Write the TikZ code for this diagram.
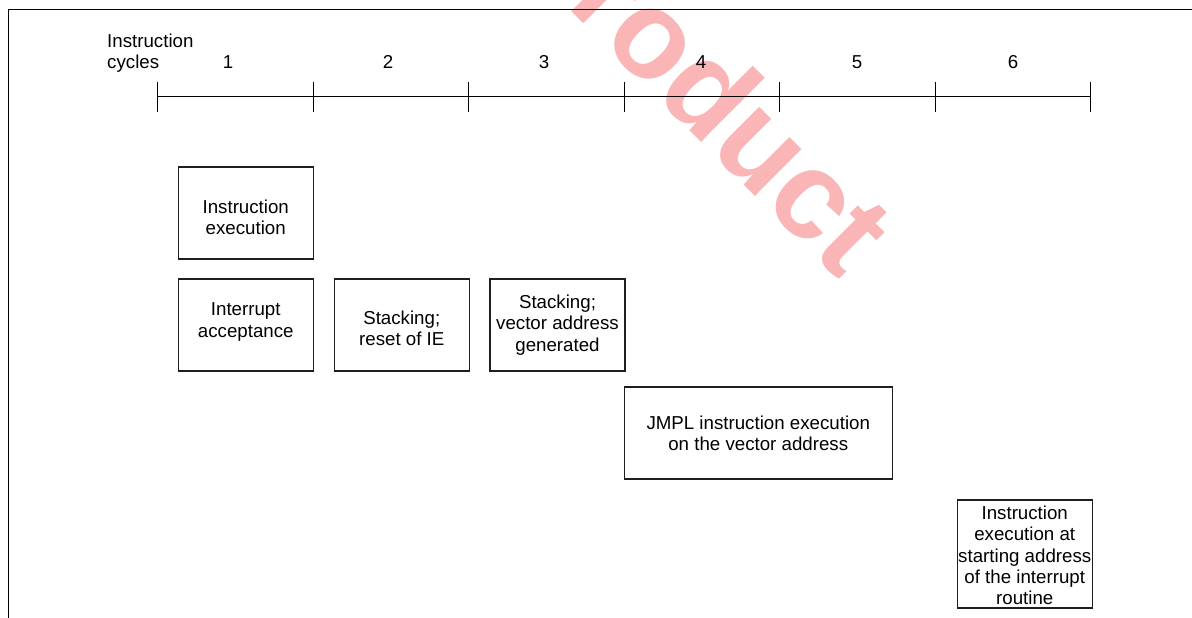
\documentclass[tikz,border=0pt]{standalone}
\usepackage{fontspec}
\setmainfont{Liberation Sans}
\newcommand\figfont{\fontsize{18.7}{21.2}\selectfont}
\newcommand\wmfont{\fontsize{125}{125}\selectfont\bfseries}
\definecolor{wmc}{RGB}{250,182,182}
\definecolor{boxc}{RGB}{30,30,30}
\begin{document}
\begin{tikzpicture}[x=1pt,y=-1pt,
  box/.style={draw=boxc, line width=1.1pt, inner sep=0pt,
    minimum width=135pt, minimum height=92pt},
  lbl/.style={inner sep=0pt, font=\figfont, align=center},
  rule/.style={line width=1pt, draw=black},
  watermark/.style={inner sep=0pt, anchor=base west, rotate=-45, text=wmc, font=\wmfont}]
\useasboundingbox (0,0) rectangle (1192,618);
\clip (0,0) rectangle (1192,618);
% watermark (behind)
\node[watermark] (wm) at (565,5.5) {roduct};
% frame lines
\coordinate (fb) at (8.7,618);
\coordinate (fc) at (8.7,9.5);
\coordinate (fr) at (1192,9.5);
\draw[rule] (fb) -- (fc) -- (fr);
% axis
\foreach \i/\x in {0/157.5,1/313,2/468.5,3/624,4/779.5,5/935,6/1090.5}
  \coordinate (t\i) at (\x,97);
\draw[rule] (t0) -- (t6);
\foreach \i in {0,...,6}
  \draw[rule] ([yshift=15pt]t\i) -- ([yshift=-15pt]t\i);
% axis labels
\node[lbl, anchor=north west, align=left] (ic) at (107,33.3) {Instruction\\cycles};
\foreach \n/\x in {1/228,2/388,3/544,4/701,5/857,6/1013}
  \node[lbl, anchor=base] (n\n) at (\x,68.3) {\n};
% boxes
\node[box] (ie) at (245.75,213) {};
\node[lbl] (ie-t) at ([yshift=-4.5pt]ie.center) {Instruction\\execution};
\node[box] (ia) at (245.75,325) {};
\node[lbl] (ia-t) at ([yshift=3pt]ia.center) {Interrupt\\acceptance};
\node[box] (st1) at (401.75,325) {};
\node[lbl] (st1-t) at ([yshift=-3.5pt]st1.center) {Stacking;\\reset of IE};
\node[box] (st2) at (557.5,325) {};
\node[lbl] (st2-t) at (st2.center) {Stacking;\\vector address\\generated};
\node[box, minimum width=268pt] (jm) at (758.25,433) {};
\node[lbl] (jm-t) at (jm.center) {JMPL instruction execution\\on the vector address};
\node[box, minimum height=108pt] (ir) at (1024.75,554) {};
\node[lbl] (ir-t) at ([yshift=-1.5pt]ir.center) {Instruction\\execution at\\starting address\\of the interrupt\\routine};
\end{tikzpicture}
\end{document}
